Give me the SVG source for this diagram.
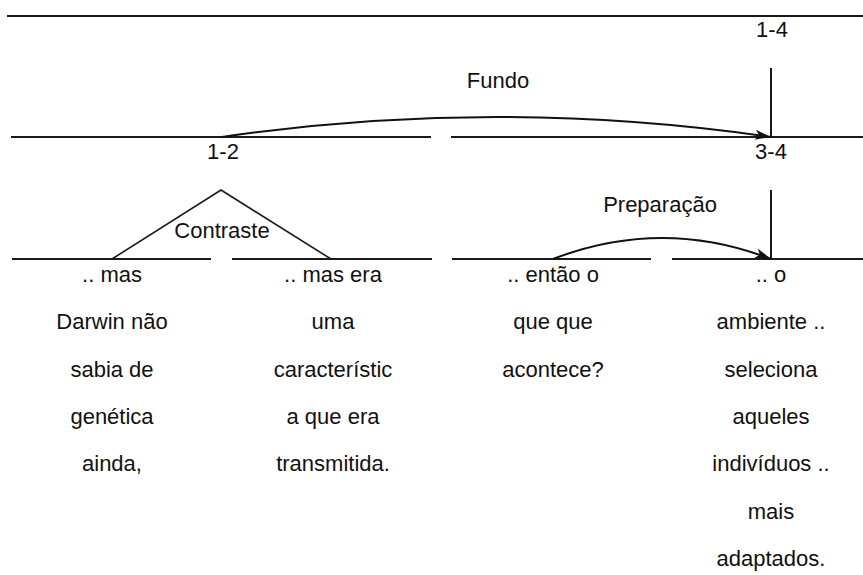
<svg xmlns="http://www.w3.org/2000/svg" width="863" height="575" viewBox="0 0 863 575">
<style>
.ln{stroke:#1a1a1a;stroke-width:2;fill:none}
.arc{stroke:#111;stroke-width:2;fill:none}
.tri{stroke:#1a1a1a;stroke-width:1.6;fill:none}
text{font-family:"Liberation Sans",Arial,sans-serif;font-size:22px;fill:#111;text-anchor:middle}
</style>
<defs>
<marker id="ah" viewBox="0 0 16 10" refX="16" refY="5" markerWidth="16" markerHeight="10" markerUnits="userSpaceOnUse" orient="auto">
<path d="M0,0 L16,5 L0,10 L4,5 Z" fill="#111"/>
</marker>
</defs>
<rect width="863" height="575" fill="#fff"/>
<g id="spans">
<line class="ln" x1="7" y1="16" x2="863" y2="16"/>
<line class="ln" x1="11" y1="137" x2="431" y2="137"/>
<line class="ln" x1="451" y1="137" x2="863" y2="137"/>
<line class="ln" x1="12" y1="259" x2="211" y2="259"/>
<line class="ln" x1="232" y1="259" x2="432" y2="259"/>
<line class="ln" x1="452" y1="259" x2="651" y2="259"/>
<line class="ln" x1="672" y1="259" x2="863" y2="259"/>
</g>
<g id="node-1-4">
<text x="772" y="37">1-4</text>
</g>
<g id="node-1-2">
<text x="223" y="159">1-2</text>
</g>
<g id="node-3-4">
<text x="771" y="159">3-4</text>
</g>
<g id="node-seg1">
<text x="112" y="282">.. mas</text>
<text x="112" y="329">Darwin não</text>
<text x="112" y="377">sabia de</text>
<text x="112" y="424">genética</text>
<text x="112" y="471">ainda,</text>
</g>
<g id="node-seg2">
<text x="333" y="282">.. mas era</text>
<text x="333" y="329">uma</text>
<text x="333" y="377">característic</text>
<text x="333" y="424">a que era</text>
<text x="333" y="471">transmitida.</text>
</g>
<g id="node-seg3">
<text x="553" y="282">.. então o</text>
<text x="553" y="329">que que</text>
<text x="553" y="377">acontece?</text>
</g>
<g id="node-seg4">
<text x="771" y="282">.. o</text>
<text x="771" y="329">ambiente ..</text>
<text x="771" y="377">seleciona</text>
<text x="771" y="424">aqueles</text>
<text x="771" y="471">indivíduos ..</text>
<text x="771" y="519">mais</text>
<text x="771" y="566">adaptados.</text>
</g>
<g id="connectors">
<line class="ln" x1="771" y1="68" x2="771" y2="137"/>
<line class="ln" x1="771" y1="190" x2="771" y2="259"/>
<path class="arc" d="M222,137 Q496,97 771,137" marker-end="url(#ah)"/>
<path class="arc" d="M553,259 Q662,217 771,259" marker-end="url(#ah)"/>
<polyline class="tri" points="112,259 221,190 331,259"/>
</g>
<g id="labels">
<text x="498" y="88">Fundo</text>
<text x="222" y="238">Contraste</text>
<text x="660" y="212">Preparação</text>
</g>
</svg>
